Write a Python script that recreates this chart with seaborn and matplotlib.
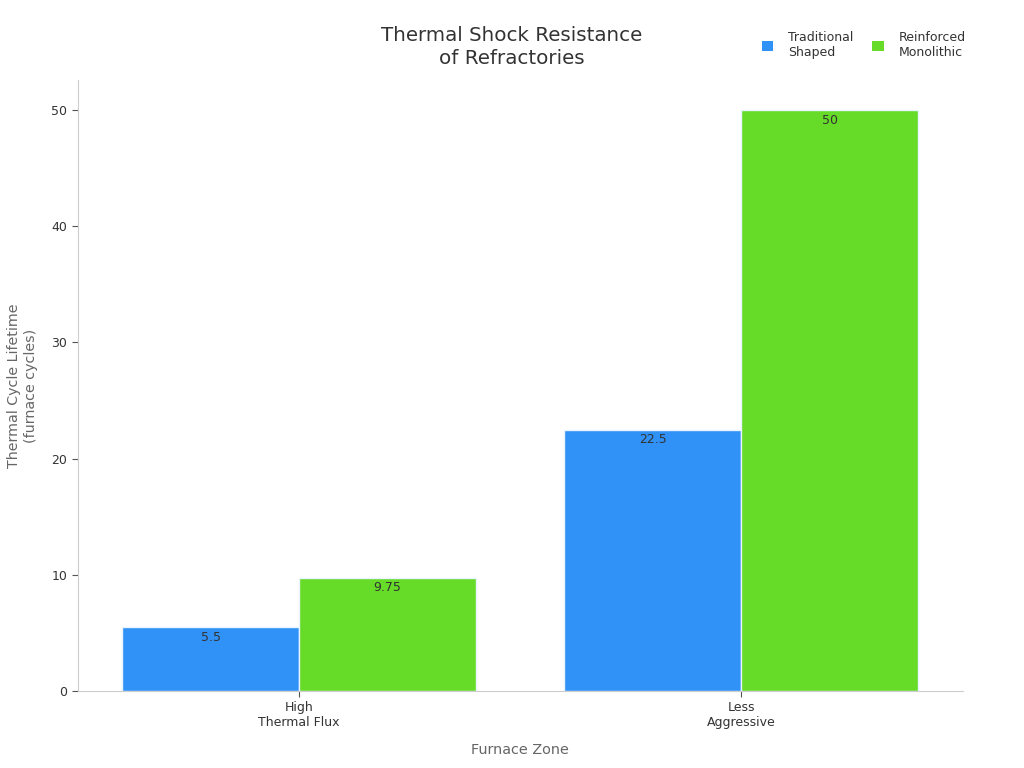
import matplotlib
matplotlib.use("Agg")
import matplotlib.pyplot as plt
import seaborn as sns
import pandas as pd
from matplotlib.patches import Patch

zones = ["High\nThermal Flux", "Less\nAggressive"]
series = ["Traditional\nShaped", "Reinforced\nMonolithic"]
traditional = [5.5, 22.5]
reinforced = [9.75, 50]
labels_trad = ["5.5", "22.5"]
labels_reinf = ["9.75", "50"]
colors = ["#3091F7", "#66DB28"]

df = pd.DataFrame({
    "zone": zones * 2,
    "series": [series[0]] * 2 + [series[1]] * 2,
    "value": traditional + reinforced,
})

sns.set_theme(style="white")
plt.rcParams['font.family'] = ['DejaVu Sans']

fig = plt.figure(figsize=(10.24, 7.68), dpi=100)
ax = fig.add_axes([0.076, 0.1003, 0.864, 0.7957])

sns.barplot(data=df, x="zone", y="value", hue="series", palette=colors,
            width=0.8, edgecolor="#e8f4ff", linewidth=1, ax=ax, legend=False,
            saturation=1)

all_labels = [labels_trad, labels_reinf]
for cont, labs in zip(ax.containers, all_labels):
    ax.bar_label(cont, labels=labs, label_type="edge", padding=-12,
                 fontsize=9, color="#333333")

ax.set_xlim(-0.5, 1.5)
ax.set_ylim(0, 52.6)
ax.set_yticks([0, 10, 20, 30, 40, 50])
ax.tick_params(axis="both", labelsize=9, colors="#333333", length=4, width=0.8,
               bottom=True, left=True)
ax.tick_params(axis="x", color="#555555")
ax.tick_params(axis="y", color="#555555")
for s in ["top", "right"]:
    ax.spines[s].set_visible(False)
for s in ["left", "bottom"]:
    ax.spines[s].set_color("#cccccc")
    ax.spines[s].set_linewidth(0.8)

ax.set_xlabel("Furnace Zone", fontsize=10.4, color="#666666", labelpad=10)
ax.set_ylabel("Thermal Cycle Lifetime\n(furnace cycles)", fontsize=10.3,
              color="#666666", labelpad=10)

fig.text(0.5, 0.911, "Thermal Shock Resistance\nof Refractories", ha="center",
         va="bottom", fontsize=14.3, color="#333333", linespacing=1.3)

handles = [Patch(facecolor=c, edgecolor="none") for c in colors]
fig.legend(handles, series, loc="upper right", bbox_to_anchor=(0.954, 0.974),
           ncol=2, frameon=False, fontsize=9, handlelength=0.9,
           handleheight=0.9, columnspacing=1.5, handletextpad=1.2,
           labelcolor="#333333")

fig.savefig("out.png", dpi=100)
